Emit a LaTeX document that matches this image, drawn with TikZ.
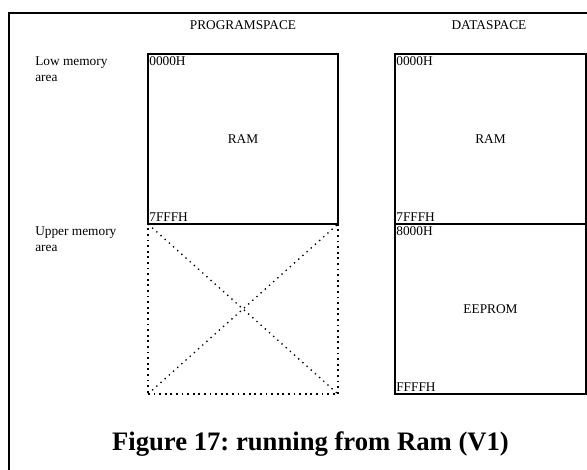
\documentclass[tikz,border=0pt]{standalone}
\usepackage{fontspec}
\setmainfont{Liberation Serif}
\usetikzlibrary{positioning}
\frenchspacing

\begin{document}
\begin{tikzpicture}[x=0.75pt, y=-0.75pt]
\tikzstyle{block} = [rectangle, draw=black, line width=1.4pt, outer sep=0pt, minimum width=142.5pt, minimum height=127.5pt, inner sep=0pt, font=\fontsize{10}{12}\selectfont]
\tikzstyle{empty} = [rectangle, draw=black, line width=1.4pt, outer sep=0pt, dash pattern=on 1.4pt off 2.8pt, minimum width=142.5pt, minimum height=127.5pt, inner sep=0pt]
\tikzstyle{addr} = [inner xsep=0.8pt, inner ysep=2pt, font=\fontsize{10}{12}\selectfont]
\tikzstyle{label} = [inner sep=0pt, align=left, font=\fontsize{10}{11.5}\selectfont]
\tikzstyle{cross} = [line width=1pt, dash pattern=on 1pt off 3.2pt]

\clip (0,0) rectangle (587,470);
\fill[white] (0,0) rectangle (587,470);
% frame of the figure
\draw[line width=1.5pt] (9,480) -- (9,13) -- (600,13);

% column titles
\node (ptitle) [label] at (243,25) {PROGRAMSPACE};
\node (dtitle) [label] at (489,25) {DATASPACE};
\node (low) [label, anchor=north west] at (35,57) {Low memory\\area};
\node (upper) [label, anchor=north west] at (35,227) {Upper memory\\area};

% program space
\node (pram) [block] at (243,139) {RAM};
\node (pup) [empty, below=0pt of pram] {};
\draw [cross] (pup.north west) -- (pup.south east);
\draw [cross] (pup.south west) -- (pup.north east);
\node [addr, anchor=north west] at (pram.north west) {0000H};
\node [addr, anchor=south west] at (pram.south west) {7FFFH};

% data space
\node (dram) [block, minimum width=143.25pt] at (490.5,139) {RAM};
\node (deep) [block, minimum width=143.25pt, below=0pt of dram] {EEPROM};
\node [addr, anchor=north west] at (dram.north west) {0000H};
\node [addr, anchor=south west] at (dram.south west) {7FFFH};
\node [addr, anchor=north west] at (deep.north west) {8000H};
\node [addr, anchor=south west] at (deep.south west) {FFFFH};

\node (caption) [font=\fontsize{20}{24}\selectfont\bfseries] at (310.5,444) {Figure 17: running from Ram (V1)};
\end{tikzpicture}
\end{document}
